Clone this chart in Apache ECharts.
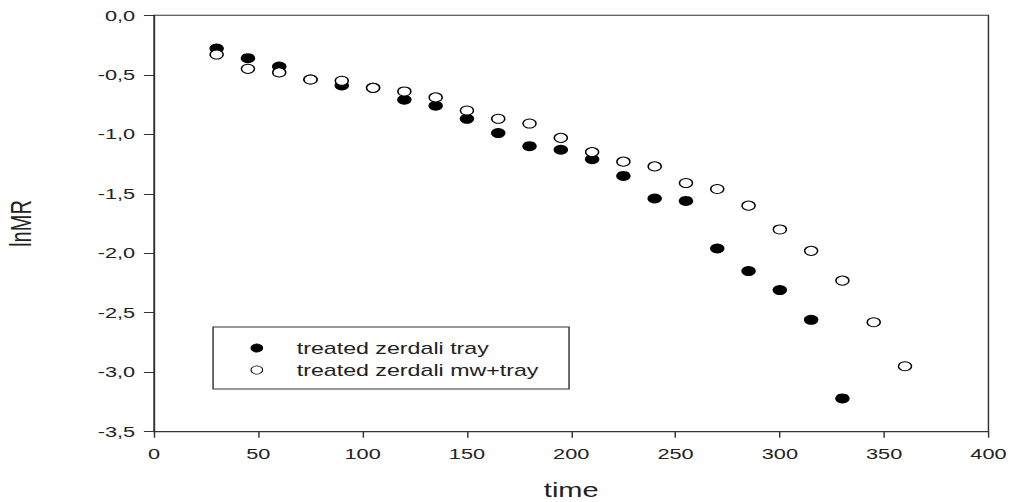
<!DOCTYPE html>
<html>
<head>
<meta charset="utf-8">
<script src="https://cdn.jsdelivr.net/npm/echarts@6/dist/echarts.min.js"></script>
<style>
  html, body { margin: 0; padding: 0; background: #fff; overflow: hidden; }
  #chart {
    position: absolute; left: 0; top: 0;
    width: 699px; height: 502px;
    transform: scaleX(1.4506); transform-origin: 0 0;
  }
</style>
</head>
<body>
<div id="chart"></div>
<script>
// Drying time (min) and ln of moisture ratio for the two treatments
const timeTray = [30, 45, 60, 75, 90, 105, 120, 135, 150, 165, 180, 195, 210, 225, 240, 255, 270, 285, 300, 315, 330];
const lnMRTray = [-0.28, -0.36, -0.43, -0.54, -0.59, -0.61, -0.71, -0.76, -0.87, -0.99, -1.10, -1.13, -1.21, -1.35, -1.54, -1.56, -1.96, -2.15, -2.31, -2.56, -3.22];

const timeMwTray = [30, 45, 60, 75, 90, 105, 120, 135, 150, 165, 180, 195, 210, 225, 240, 255, 270, 285, 300, 315, 330, 345, 360];
const lnMRMwTray = [-0.33, -0.45, -0.48, -0.54, -0.55, -0.61, -0.64, -0.69, -0.80, -0.87, -0.91, -1.03, -1.15, -1.23, -1.27, -1.41, -1.46, -1.60, -1.80, -1.98, -2.23, -2.58, -2.95];

const seriesNames = ['treated zerdali tray', 'treated zerdali mw+tray'];
const xAxisTitle = 'time';
const yAxisTitle = 'lnMR';

const pairs = (xs, ys) => xs.map((x, i) => [x, ys[i]]);

const ink = '#222';
const font = 'Liberation Sans, Arial, sans-serif';
const chart = echarts.init(document.getElementById('chart'), null, { renderer: 'svg' });

chart.setOption({
  animation: false,
  backgroundColor: '#fff',
  grid: {
    left: 106.2, right: 17.6, top: 15.3, bottom: 70.3,
    containLabel: false,
    outerBoundsMode: 'none',
    show: true, borderColor: '#333', borderWidth: 1, backgroundColor: 'transparent'
  },
  legend: {
    data: seriesNames,
    orient: 'vertical',
    left: 146.9, top: 327,
    padding: [13, 21, 11, 25.8],
    itemGap: 6,
    itemWidth: 9, itemHeight: 8,
    itemStyle: { borderWidth: 0.7 },
    borderColor: '#333', borderWidth: 1,
    selectedMode: false,
    textStyle: {
      fontFamily: font,
      fontSize: 16, lineHeight: 16, color: ink,
      padding: [0, 0, 0, 18]
    }
  },
  xAxis: {
    type: 'value',
    min: 0, max: 400, interval: 50,
    name: xAxisTitle,
    nameLocation: 'middle', nameGap: 48,
    nameTextStyle: { fontFamily: font, fontSize: 20, color: ink },
    axisLine: { show: true, onZero: false, lineStyle: { color: '#333', width: 1 } },
    axisTick: { show: true, length: 6, lineStyle: { color: '#333' } },
    axisLabel: { margin: 15, fontFamily: font, fontSize: 15, color: ink },
    splitLine: { show: false }
  },
  yAxis: {
    type: 'value',
    min: -3.5, max: 0, interval: 0.5,
    name: yAxisTitle,
    nameLocation: 'middle', nameGap: 82,
    nameRotate: 90,
    nameTextStyle: { fontFamily: font, fontSize: 20, color: ink },
    axisLine: { show: true, onZero: false, lineStyle: { color: '#333', width: 1 } },
    axisTick: { show: true, length: 7, lineStyle: { color: '#333' } },
    axisLabel: {
      margin: 13,
      fontFamily: font, fontSize: 15, color: ink,
      formatter: v => v.toFixed(1).replace('.', ',')
    },
    splitLine: { show: false }
  },
  series: [
    {
      name: seriesNames[0],
      type: 'scatter',
      data: pairs(timeTray, lnMRTray),
      symbol: 'circle',
      symbolSize: 10,
      itemStyle: { color: '#000', borderColor: '#000', borderWidth: 0, opacity: 1 },
      emphasis: { disabled: true }
    },
    {
      name: seriesNames[1],
      type: 'scatter',
      data: pairs(timeMwTray, lnMRMwTray),
      symbol: 'circle',
      symbolSize: 9,
      itemStyle: { color: '#fff', borderColor: '#000', borderWidth: 1, opacity: 1 },
      emphasis: { disabled: true }
    }
  ]
});
</script>
</body>
</html>
